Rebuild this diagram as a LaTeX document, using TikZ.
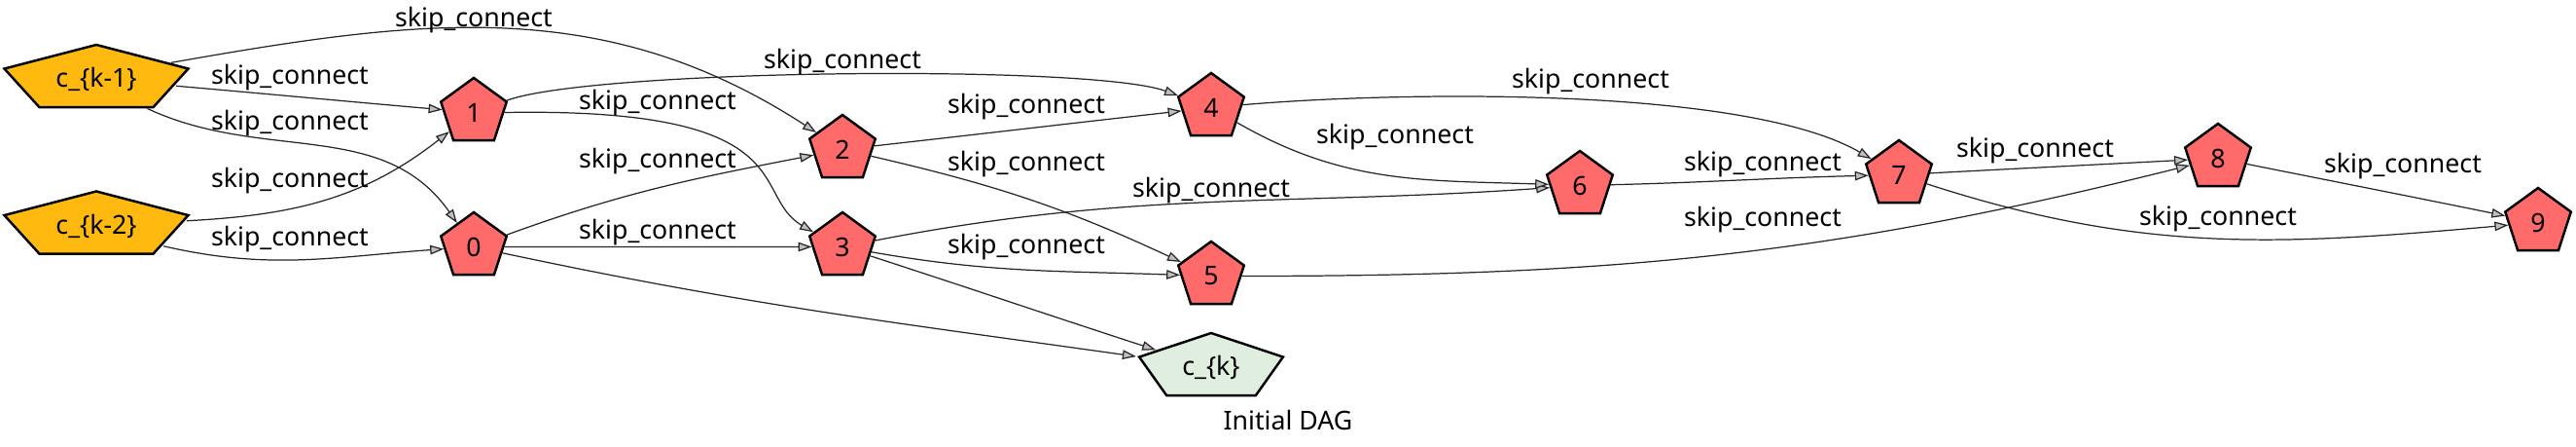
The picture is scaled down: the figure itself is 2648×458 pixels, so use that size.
\documentclass[tikz,border=0pt]{standalone}
\usepackage{fontspec}
\setmainfont{Noto Sans}
\usetikzlibrary{shapes}
\usetikzlibrary{arrows.meta}

\definecolor{opred}{HTML}{FF6A6A}
\definecolor{inpgold}{HTML}{FFB90F}
\definecolor{outgreen}{HTML}{E0EEE0}

\begin{document}
\begin{tikzpicture}[x=0.2mm, y=-0.2mm,
  every node/.style={font=\fontsize{15.2}{18}\selectfont},
  op/.style={
    regular polygon,
    regular polygon sides=5,
    minimum size=14.2mm,
    inner sep=0pt,
    draw=black,
    line width=1.4pt,
    fill=#1},
  op/.default=opred,
  dag/.style={-{Triangle[length=2.8mm, width=1.9mm, fill=black!25]},
    line width=0.7pt, draw=black!85}]
  \useasboundingbox (0,0) rectangle (2648,458);
  % draw input nodes
  \node[op=inpgold, xscale=2.8] (km1) at (99,81.5) {};
  \node (km1t) at (km1) {c\_\{k-1\}};
  \node[op=inpgold, xscale=2.8] (km2) at (99,232) {};
  \node (km2t) at (km2) {c\_\{k-2\}};
  % draw output node
  \node[op=outgreen, xscale=2.19] (k) at (1245,377.5) {};
  \node (kt) at (k) {c\_\{k\}};
  \node (title) at (1324,431) {Initial DAG};
  % draw intermediate nodes
  \foreach \n/\x/\y in {0/487/253.5, 1/487/115.5, 2/866/153.5, 3/866/253.5,
      4/1245/110.5, 5/1245/283.5, 6/1624/190.5, 7/1952/179.5, 8/2280/162.5,
      9/2609/228.5}
    \node[op] (n\n) at (\x,\y) {\n};
  % draw skip_connect edges with their labels
  \foreach \a/\b/\tout/\tin/\lo/\lx/\ly [count=\e] in {
      km1.32/n2/10/147/1/487/21, km1.-13/n1/-5/175/1/298/80,
      km1.-58/n0/-25/125/1/298/127, km2.9/n1/3/218/1/298/186,
      km2.-40/n0/-13/184/1/298/246, n1/n4/20/160/0.35/866/64,
      n0/n2/20/191/1/676/166, n0/n3/0/180/1/676/239,
      n2/n4/6.5/186.5/1/1055/110, n2/n5/-13/155/1/1055/169,
      n3/n6/11/184/1/1245/196, n3/n5/-10/178/1/1055/254,
      n4/n7/5/150/0.6/1635/84, n4/n6/-30/178/1/1434/141,
      n6/n7/1.5/181.5/1/1812/169, n5/n8/0/194/1/1812/226,
      n7/n8/3/183/1/2092/155, n7/n9/-18/185/1/2280/225,
      n8/n9/-11.4/168.6/1/2470/171} {
    \draw[dag] (\a) to[out=\tout, in=\tin, looseness=\lo] (\b);
    \node (l\e) at (\lx,\ly) {skip\_connect};
  }
  % edge case: the bent edge from 1 to 3
  \draw[dag] (n1.0) .. controls (830,110) and (770,200) .. (n3.153);
  \node (l20) at (676,106) {skip\_connect};
  % draw unlabelled edges into the output node
  \draw[dag] (n0) to[out=-12, in=172] (k.corner 2);
  \draw[dag] (n3) to[out=-18, in=162] (k.145);
\end{tikzpicture}
\end{document}
